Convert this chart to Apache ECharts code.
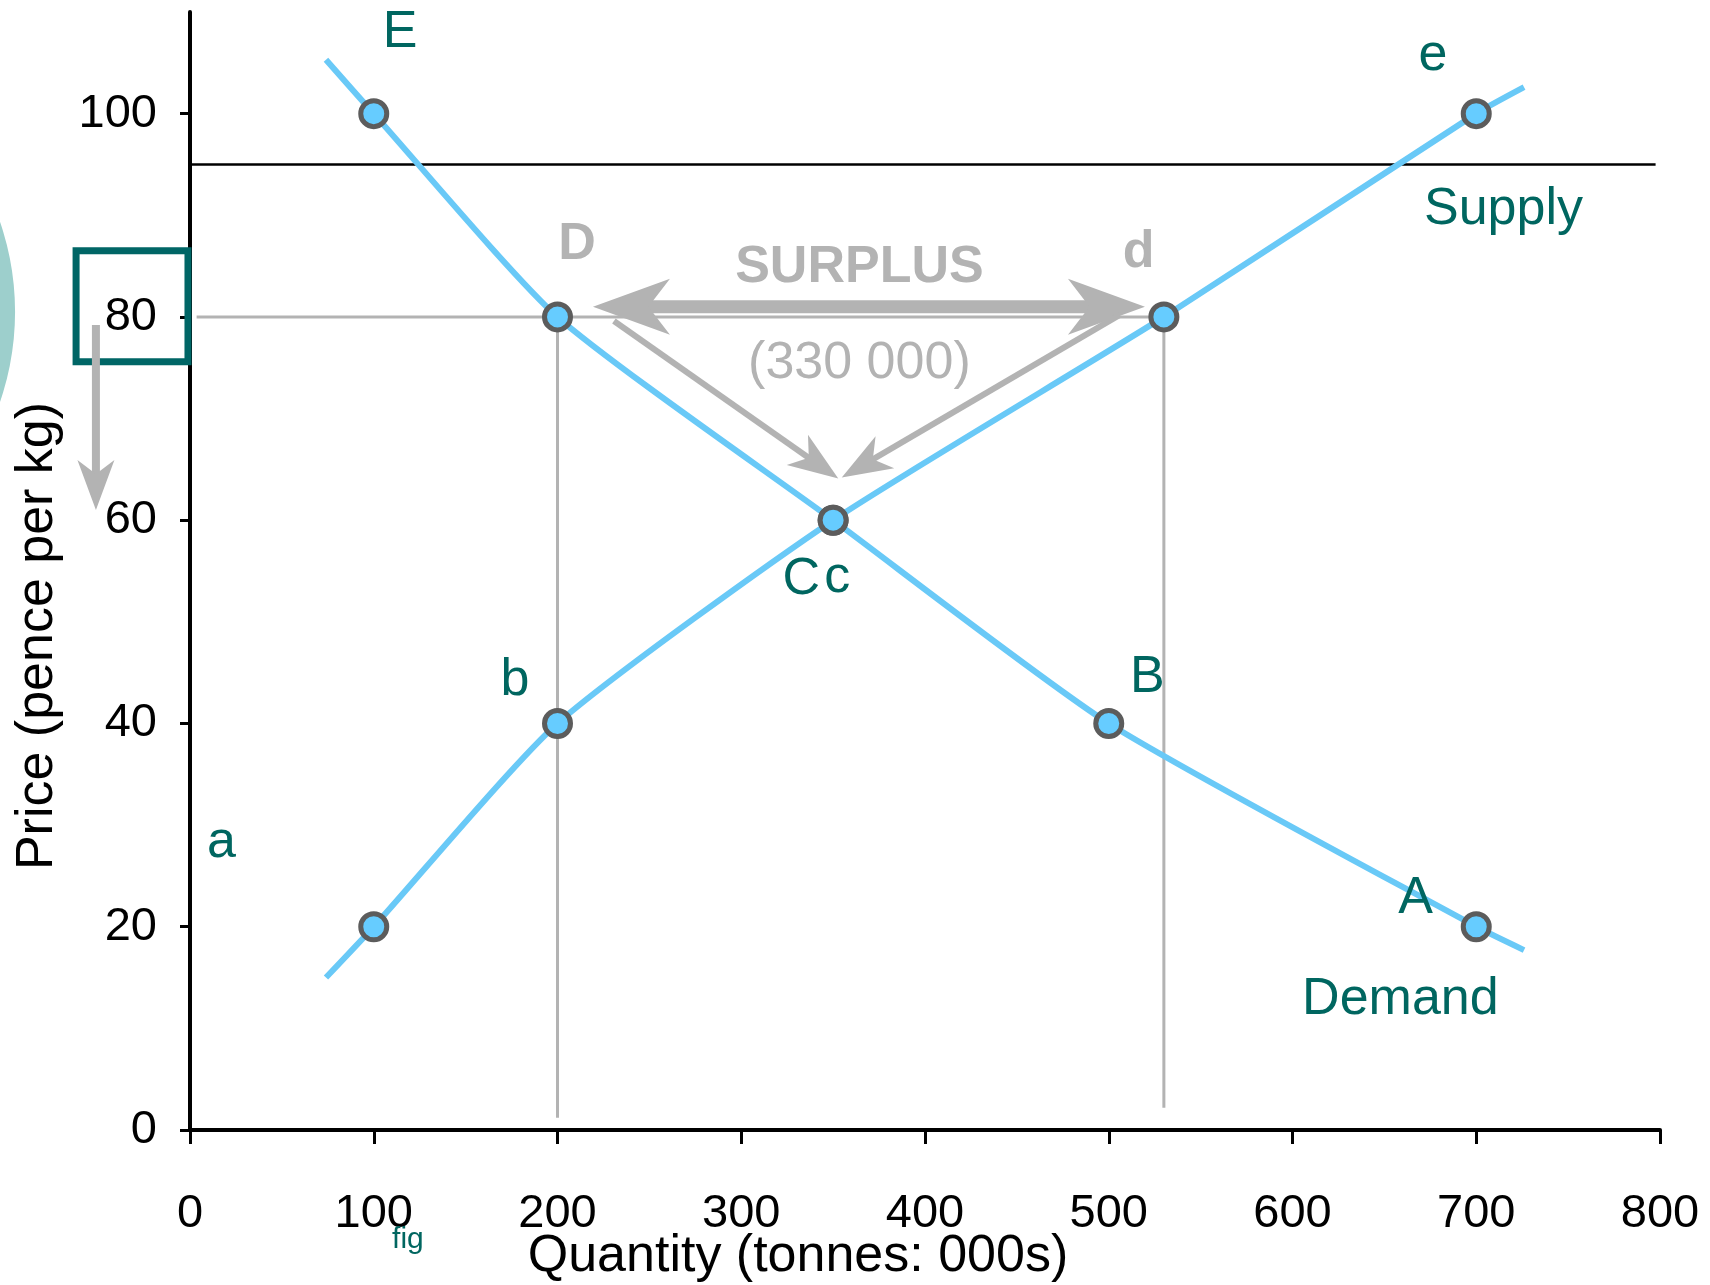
<!DOCTYPE html>
<html>
<head>
<meta charset="utf-8">
<script src="https://cdn.jsdelivr.net/npm/echarts@6/dist/echarts.min.js"></script>
<style>
  html, body { margin: 0; padding: 0; background: #ffffff; }
  #chart { width: 1710px; height: 1285px; }
</style>
</head>
<body>
<div id="chart"></div>
<script>
// Price axis ticks (pence per kg) and quantity range (tonnes: 000s)
const priceTicks = [0, 20, 40, 60, 80, 100];
const quantityTicks = [0, 100, 200, 300, 400, 500, 600, 700, 800];

// Demand and supply curves, [quantity, price]
const demandCurve = [[74, 105.3], [100, 100], [200, 80], [350, 60], [500, 40], [700, 20], [726, 17.7]];
const supplyCurve = [[74, 15], [100, 20], [200, 40], [350, 60], [530, 80], [700, 100], [726, 102.6]];

// Schedule points marked on each curve
const demandPoints = [[100, 100], [200, 80], [350, 60], [500, 40], [700, 20]];
const supplyPoints = [[100, 20], [200, 40], [350, 60], [530, 80], [700, 100]];

// Guides at a price of 80p: demand 200, supply 530 -> surplus 330 000 tonnes
const guideAcross = [[3.6, 80], [530, 80]];
const guideDemand = [[200, 80], [200, 1.2]];
const guideSupply = [[530, 80], [530, 2.2]];
const upperLine = [[-38, 95], [797.6, 95]];

// Arrows, [fromQ, fromP, toQ, toP]
const surplusArrow = [[219.3, 81, 519.7, 81]];
const settleArrows = [[230.7, 79.6, 352.8, 64.1], [506, 80.2, 354.7, 64.2]];
const priceDropArrow = [[-51.2, 79.2, -51.2, 61]];

// Framed price and the tinted disc at the left edge
const priceFrame = [[-62, 86.5, -1.1, 75.6]];
const tintDisc = [[-246, 80.5, -95.2]];

// Text annotations, [text, quantity, price]
const curveLabels = [
  ['E', 114.3, 108.0], ['e', 676.4, 105.7], ['Supply', 714.8, 90.6],
  ['C', 332.7, 54.1], ['c', 352.3, 54.3], ['b', 176.8, 44.2], ['B', 521, 44.5],
  ['a', 17.1, 28.3], ['A', 667, 22.8], ['Demand', 658.7, 12.8]
];
const surplusLabels = [['D', 210.6, 87.1], ['d', 516.2, 86.3], ['SURPLUS', 364.3, 84.8]];
const surplusAmount = [['(330 000)', 364.3, 75.4]];
const noteLabels = [['fig', 118.6, -10.8]];

const FONT = '"Liberation Sans", Arial, Helvetica, sans-serif';
const TEAL = '#006660';
const GREY = '#b3b3b3';
const CURVE = '#69c9f7';

function headPoints(tip, u, len, half, notch) {
  const nx = -u[1], ny = u[0];
  const bx = tip[0] - u[0] * len, by = tip[1] - u[1] * len;
  return [
    [tip[0], tip[1]],
    [bx + nx * half, by + ny * half],
    [tip[0] - u[0] * len * notch, tip[1] - u[1] * len * notch],
    [bx - nx * half, by - ny * half]
  ];
}

function arrowRenderer(shaft, len, half, both) {
  return function (params, api) {
    const a = api.coord([api.value(0), api.value(1)]);
    const b = api.coord([api.value(2), api.value(3)]);
    const dx = b[0] - a[0], dy = b[1] - a[1];
    const d = Math.hypot(dx, dy);
    const u = [dx / d, dy / d];
    const notch = 0.72;
    const back = len * 0.55;
    const s = both ? [a[0] + u[0] * back, a[1] + u[1] * back] : a;
    const e = [b[0] - u[0] * back, b[1] - u[1] * back];
    const children = [
      { type: 'line', shape: { x1: s[0], y1: s[1], x2: e[0], y2: e[1] },
        style: { stroke: GREY, lineWidth: shaft } },
      { type: 'polygon', shape: { points: headPoints(b, u, len, half, notch) },
        style: { fill: GREY } }
    ];
    if (both) {
      children.push({ type: 'polygon', shape: { points: headPoints(a, [-u[0], -u[1]], len, half, notch) },
        style: { fill: GREY } });
    }
    return { type: 'group', children: children };
  };
}

function textSeries(list, font, color, z) {
  return {
    type: 'custom',
    coordinateSystem: 'cartesian2d',
    clip: false,
    silent: true,
    z: z,
    data: list.map(function (t) { return [t[1], t[2]]; }),
    renderItem: function (params, api) {
      const item = list[params.dataIndex];
      const p = api.coord([item[1], item[2]]);
      return {
        type: 'text', x: p[0], y: p[1],
        style: { text: item[0], fill: color, font: font, align: 'center', verticalAlign: 'middle' }
      };
    }
  };
}

function plainLine(data, color, width, z) {
  return {
    type: 'line', data: data, symbol: 'none', clip: false, silent: true, z: z,
    lineStyle: { color: color, width: width }
  };
}

const chart = echarts.init(document.getElementById('chart'), null, { renderer: 'canvas' });

chart.setOption({
  backgroundColor: '#ffffff',
  animation: false,
  grid: { left: 190, right: 50, top: 12, bottom: 155, containLabel: false, outerBoundsMode: 'none' },
  xAxis: {
    type: 'value', min: 0, max: 800, interval: 100,
    name: 'Quantity (tonnes: 000s)', nameLocation: 'middle', nameGap: 101, nameMoveOverlap: false,
    nameTextStyle: { fontFamily: FONT, fontSize: 52, color: '#000', padding: [0, 254, 0, 0] },
    axisLine: { onZero: false, lineStyle: { color: '#000', width: 4 } },
    axisTick: { show: true, inside: false, length: 14, lineStyle: { color: '#000', width: 3 } },
    axisLabel: { fontFamily: FONT, fontSize: 47, color: '#000', margin: 61,
      customValues: quantityTicks },
    splitLine: { show: false }
  },
  yAxis: {
    type: 'value', min: 0, max: 110,
    name: 'Price (pence per kg)', nameLocation: 'middle', nameGap: 126, nameMoveOverlap: false,
    nameTextStyle: { fontFamily: FONT, fontSize: 52, color: '#000', padding: [0, 130, 0, 0] },
    axisLine: { onZero: false, lineStyle: { color: '#000', width: 4 } },
    axisTick: { show: true, inside: false, length: 10, lineStyle: { color: '#000', width: 3 },
      customValues: priceTicks },
    axisLabel: { fontFamily: FONT, fontSize: 47, color: '#000', margin: 33,
      customValues: priceTicks },
    splitLine: { show: false }
  },
  series: [
    {
      type: 'custom', coordinateSystem: 'cartesian2d', clip: false, silent: true, z: 0,
      data: tintDisc,
      renderItem: function (params, api) {
        const c = api.coord([api.value(0), api.value(1)]);
        const rim = api.coord([api.value(2), api.value(1)]);
        return { type: 'circle', shape: { cx: c[0], cy: c[1], r: rim[0] - c[0] },
          style: { fill: '#9dcfcc' } };
      }
    },
    {
      type: 'custom', coordinateSystem: 'cartesian2d', clip: false, silent: true, z: 1,
      data: priceFrame,
      renderItem: function (params, api) {
        const p1 = api.coord([api.value(0), api.value(1)]);
        const p2 = api.coord([api.value(2), api.value(3)]);
        return { type: 'rect',
          shape: { x: p1[0], y: p1[1], width: p2[0] - p1[0], height: p2[1] - p1[1] },
          style: { fill: null, stroke: '#006666', lineWidth: 7 } };
      }
    },
    plainLine(upperLine, '#000', 2.5, 2),
    plainLine(guideAcross, GREY, 3, 2),
    plainLine(guideDemand, GREY, 3, 2),
    plainLine(guideSupply, GREY, 3, 2),
    {
      type: 'custom', coordinateSystem: 'cartesian2d', clip: false, silent: true, z: 3,
      data: surplusArrow, renderItem: arrowRenderer(13, 77, 28, true)
    },
    {
      type: 'custom', coordinateSystem: 'cartesian2d', clip: false, silent: true, z: 3,
      data: settleArrows, renderItem: arrowRenderer(6, 50, 18.5, false)
    },
    {
      type: 'custom', coordinateSystem: 'cartesian2d', clip: false, silent: true, z: 3,
      data: priceDropArrow, renderItem: arrowRenderer(8, 50, 18.5, false)
    },
    {
      name: 'Demand', type: 'line', data: demandCurve, smooth: 0.2, symbol: 'none', z: 4,
      lineStyle: { color: CURVE, width: 6 }
    },
    {
      name: 'Supply', type: 'line', data: supplyCurve, smooth: 0.2, symbol: 'none', z: 4,
      lineStyle: { color: CURVE, width: 6 }
    },
    {
      type: 'scatter', data: demandPoints.concat(supplyPoints), symbol: 'circle', symbolSize: 26, z: 6,
      itemStyle: { color: '#66ccff', borderColor: '#5c5c5c', borderWidth: 5, opacity: 1 }
    },
    textSeries(curveLabels, '52px ' + FONT, TEAL, 5),
    textSeries(surplusLabels, 'bold 52px ' + FONT, GREY, 5),
    textSeries(surplusAmount, '52px ' + FONT, GREY, 5),
    textSeries(noteLabels, '30px ' + FONT, TEAL, 5)
  ]
});
</script>
</body>
</html>
